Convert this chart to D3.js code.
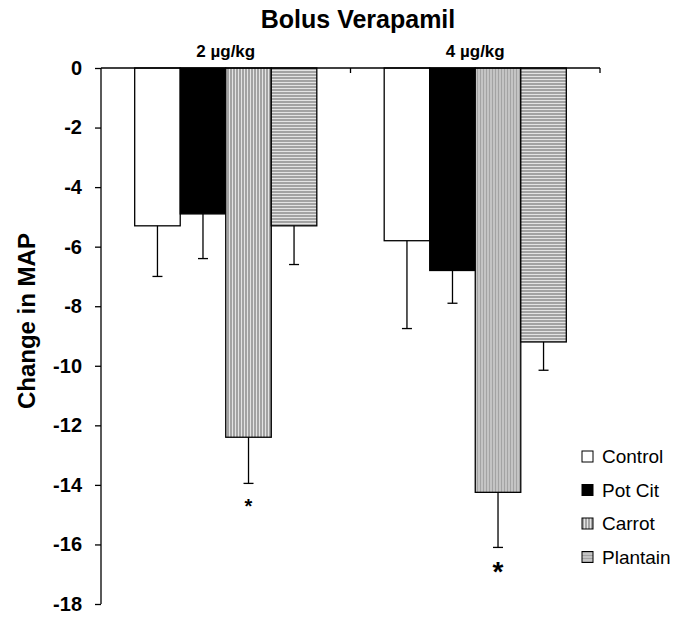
<!DOCTYPE html>
<html>
<head>
<meta charset="utf-8">
<script src="https://cdn.jsdelivr.net/npm/d3@7"></script>
<style>
  body { margin: 0; background: #fff; }
  svg { font-family: Arial, "Liberation Sans", sans-serif; }
</style>
</head>
<body>
<svg width="675" height="617"></svg>
<script>
const doses = ["2 µg/kg", "4 µg/kg"];
const groups = ["Control", "Pot Cit", "Carrot", "Plantain"];
const means = {
  "2 µg/kg": [-5.3, -4.9, -12.4, -5.3],
  "4 µg/kg": [-5.8, -6.8, -14.25, -9.2],
};
const errors = {
  "2 µg/kg": [1.7, 1.5, 1.55, 1.3],
  "4 µg/kg": [2.95, 1.1, 1.85, 0.95],
};
const yTicks = [0, -2, -4, -6, -8, -10, -12, -14, -16, -18];

const svg = d3.select("svg");
const fills = ["#fff", "#000", "url(#vstripe)", "url(#hstripe)"];

const defs = svg.append("defs");
const vp = defs.append("pattern").attr("id", "vstripe")
  .attr("patternUnits", "userSpaceOnUse").attr("width", 3).attr("height", 3);
vp.append("rect").attr("width", 3).attr("height", 3).attr("fill", "#e4e4e4");
vp.append("rect").attr("width", 2).attr("height", 3).attr("fill", "#a3a3a3");
const hp = defs.append("pattern").attr("id", "hstripe")
  .attr("patternUnits", "userSpaceOnUse").attr("width", 3).attr("height", 3);
hp.append("rect").attr("width", 3).attr("height", 3).attr("fill", "#e4e4e4");
hp.append("rect").attr("width", 3).attr("height", 2).attr("fill", "#a3a3a3");

const margin = { top: 68, left: 101, right: 75, bottom: 13 };
const innerW = 675 - margin.left - margin.right;
const innerH = 617 - margin.top - margin.bottom;

const g = svg.append("g").attr("transform", `translate(${margin.left},${margin.top})`);

const y = d3.scaleLinear().domain([0, -18]).range([0, innerH]);
const x0 = d3.scaleBand().domain(doses).range([0, innerW]).padding(0);
const x1 = d3.scaleBand().domain(groups).range([0, x0.bandwidth()])
  .paddingInner(0).paddingOuter(0.74);

// y axis
const yAxis = g.append("g")
  .call(d3.axisLeft(y).tickValues(yTicks).tickSize(6).tickFormat(d3.format("d")));
yAxis.select(".domain").attr("d", `M0,0V${innerH}`).attr("stroke-width", 1.3);
yAxis.selectAll(".tick line").attr("stroke-width", 1.3);
yAxis.selectAll("text")
  .attr("x", -19)
  .style("font-size", "20px").style("font-weight", "bold").attr("fill", "#000")
  .text((d) => (d < 0 ? "-" + Math.abs(d) : d));

// bars
const grp = g.selectAll(".dose").data(doses).enter().append("g")
  .attr("transform", (d) => `translate(${x0(d)},0)`);

grp.selectAll("rect")
  .data((d) => groups.map((k, i) => ({ k, i, v: means[d][i], e: errors[d][i] })))
  .enter().append("rect")
  .attr("x", (d) => x1(d.k))
  .attr("y", y(0))
  .attr("width", x1.bandwidth())
  .attr("height", (d) => y(d.v) - y(0))
  .attr("fill", (d) => fills[d.i])
  .attr("stroke", "#000").attr("stroke-width", 1.3);

// error bars (downward only)
const eb = grp.selectAll(".err")
  .data((d) => groups.map((k, i) => ({ k, v: means[d][i], e: errors[d][i] })))
  .enter().append("g").attr("class", "err");
eb.append("line")
  .attr("x1", (d) => x1(d.k) + x1.bandwidth() / 2)
  .attr("x2", (d) => x1(d.k) + x1.bandwidth() / 2)
  .attr("y1", (d) => y(d.v)).attr("y2", (d) => y(d.v - d.e))
  .attr("stroke", "#000").attr("stroke-width", 1.3);
eb.append("line")
  .attr("x1", (d) => x1(d.k) + x1.bandwidth() / 2 - 5)
  .attr("x2", (d) => x1(d.k) + x1.bandwidth() / 2 + 5)
  .attr("y1", (d) => y(d.v - d.e)).attr("y2", (d) => y(d.v - d.e))
  .attr("stroke", "#000").attr("stroke-width", 1.3);

// top x axis line with category ticks
const xAxis = g.append("g")
  .call(d3.axisBottom(x0).tickSize(0).tickFormat(""));
xAxis.select(".domain").attr("d", `M0,0H${innerW}`).attr("stroke-width", 1.3);
xAxis.selectAll(".tick").remove();
xAxis.selectAll(".sep").data(doses).enter().append("line")
  .attr("x1", (d) => x0(d) + x0.bandwidth()).attr("x2", (d) => x0(d) + x0.bandwidth())
  .attr("y1", 0).attr("y2", 5)
  .attr("stroke", "#000").attr("stroke-width", 1.3);

// dose labels
g.selectAll(".doseLabel").data(doses).enter().append("text")
  .attr("x", (d) => x0(d) + x1("Control") + (x1("Plantain") + x1.bandwidth() - x1("Control")) / 2)
  .attr("y", -11)
  .attr("text-anchor", "middle")
  .style("font-size", "17px").style("font-weight", "bold")
  .text((d) => d);

// significance markers
g.append("text")
  .attr("x", x0(doses[0]) + x1("Carrot") + x1.bandwidth() / 2)
  .attr("y", y(-14.5) + 13)
  .attr("text-anchor", "middle")
  .style("font-size", "20px").style("font-weight", "bold")
  .text("*");
g.append("text")
  .attr("x", x0(doses[1]) + x1("Carrot") + x1.bandwidth() / 2)
  .attr("y", y(-16.7) + 16)
  .attr("text-anchor", "middle")
  .style("font-size", "28px").style("font-weight", "bold")
  .text("*");

// title
svg.append("text")
  .attr("x", 358).attr("y", 28)
  .attr("text-anchor", "middle")
  .style("font-size", "25px").style("font-weight", "bold")
  .text("Bolus Verapamil");

// y label
svg.append("text")
  .attr("transform", `translate(35,${margin.top + y(-8.5)}) rotate(-90)`)
  .attr("text-anchor", "middle")
  .style("font-size", "24px").style("font-weight", "bold")
  .text("Change in MAP");

// legend
const legend = svg.append("g").attr("transform", "translate(582,451)");
const li = legend.selectAll("g").data(groups).enter().append("g")
  .attr("transform", (d, i) => `translate(0,${i * 33.5})`);
li.append("rect")
  .attr("width", 11).attr("height", 11)
  .attr("fill", (d, i) => fills[i])
  .attr("stroke", "#000").attr("stroke-width", 1);
li.append("text")
  .attr("x", 20).attr("y", 12)
  .style("font-size", "19px")
  .text((d) => d);
</script>
</body>
</html>
